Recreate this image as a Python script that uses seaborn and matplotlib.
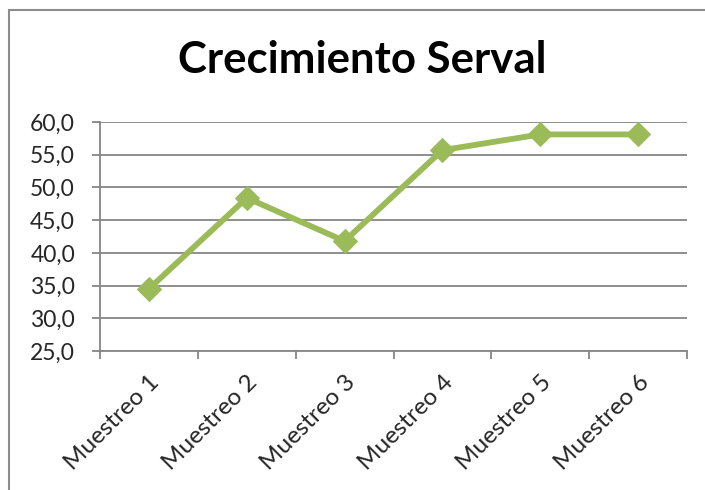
import matplotlib
matplotlib.use("Agg")
import matplotlib.pyplot as plt
import seaborn as sns
import pandas as pd
from matplotlib.ticker import FuncFormatter, FixedLocator
from matplotlib.patches import Rectangle

categories = ["Muestreo 1", "Muestreo 2", "Muestreo 3", "Muestreo 4", "Muestreo 5", "Muestreo 6"]
values = [34.5, 48.4, 41.8, 55.7, 58.1, 58.1]
title = "Crecimiento Serval"

sns.set_style("white")
plt.rcParams['font.family'] = ['Lato', 'DejaVu Sans']

df = pd.DataFrame({"cat": categories, "val": values})
df["x"] = range(len(categories))

fig = plt.figure(figsize=(7.05, 4.9), dpi=100)
ax = fig.add_axes([100/705, 1-351/490, (687-100)/705, (351-122)/490])

green = "#9BBB59"
grey = "#868686"

sns.lineplot(data=df, x="x", y="val", ax=ax, color=green, linewidth=4.2,
             marker="D", markersize=12.5, markeredgecolor=green, zorder=3)

ax.set_xlim(-0.5, len(categories) - 0.5)
ax.set_ylim(25, 60)
ax.yaxis.set_major_locator(FixedLocator([25, 30, 35, 40, 45, 50, 55, 60]))
ax.yaxis.set_major_formatter(FuncFormatter(lambda v, p: f"{v:.1f}".replace(".", ",")))
ax.grid(axis="y", color=grey, linewidth=1.3)
ax.set_axisbelow(True)

ax.set_xticks(range(len(categories)))
ax.set_xticklabels(categories, rotation=45, ha="right", rotation_mode="anchor", fontsize=17.5)
ax.xaxis.set_minor_locator(FixedLocator([i - 0.5 for i in range(len(categories) + 1)]))
ax.tick_params(axis="x", which="major", length=0, pad=15)
ax.tick_params(axis="x", which="minor", length=6, width=1.3, color=grey, bottom=True)
ax.tick_params(axis="y", length=6, width=1.3, color=grey, labelsize=16.5, left=True, pad=12)

for s in ["top", "right"]:
    ax.spines[s].set_visible(False)
for s in ["left", "bottom"]:
    ax.spines[s].set_color(grey)
    ax.spines[s].set_linewidth(1.3)

ax.set_xlabel("")
ax.set_ylabel("")

fig.text(362.5/705, 1-60/490, title, ha="center", va="center", fontsize=31.5,
         fontweight="bold", color="black")

fig.patches.append(Rectangle((9/705, -0.1), 1.2, (1+0.1) - 10/490, transform=fig.transFigure,
                             fill=False, edgecolor="#8c8c8c", linewidth=1.5))

fig.savefig("out.png", dpi=100)
